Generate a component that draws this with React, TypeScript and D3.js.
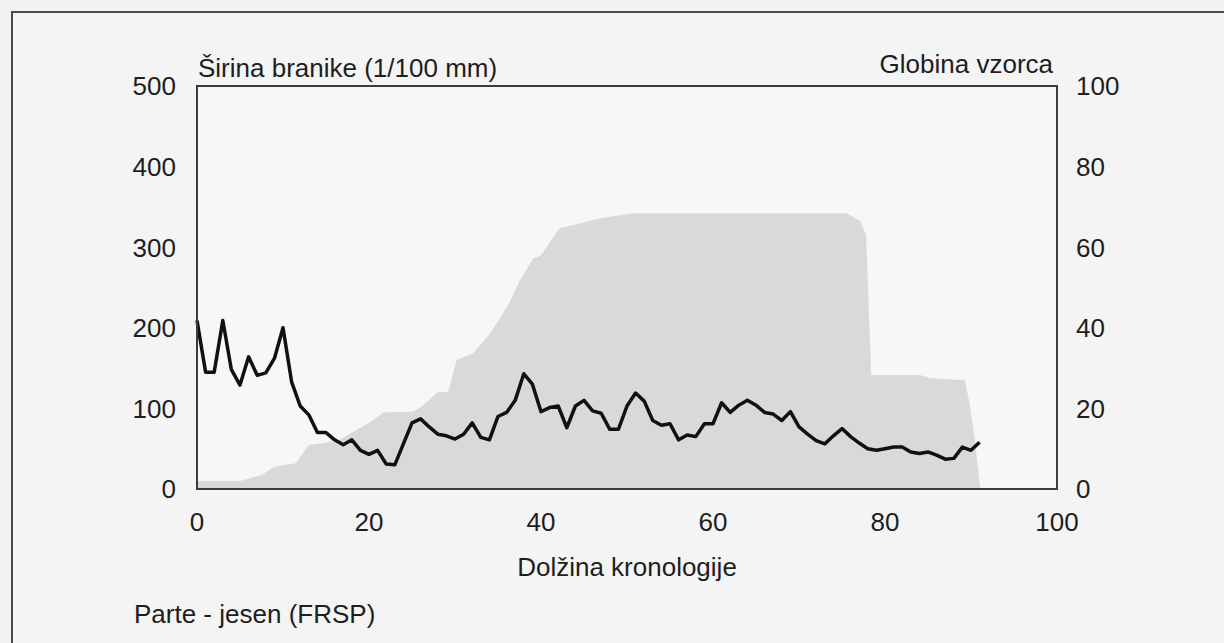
import React from "react";
import * as d3 from "d3";

const ringWidth: number[] = [
  209, 145, 145, 209, 148, 129, 164, 141, 144, 162,
  200, 133, 103, 92, 70, 70, 61, 55, 61, 48,
  43, 48, 31, 30, 56, 82, 87, 77, 68, 66,
  62, 68, 82, 64, 61, 90, 95, 110, 143, 130,
  96, 101, 103, 76, 103, 110, 97, 94, 74, 74,
  103, 119, 109, 85, 79, 81, 61, 67, 65, 81,
  81, 107, 95, 104, 110, 104, 95, 93, 85, 96,
  77, 68, 60, 56, 66, 75, 65, 57, 50, 48,
  50, 52, 52, 46, 44, 46, 42, 37, 38, 52,
  48, 58,
];
const ringYears: number[] = ringWidth.map((_, i) => i);

const depthYears: number[] = [
  0, 5, 7.5, 9, 11.5, 13, 15, 16.6, 17.8, 19.7, 21.7, 25.2, 26.3, 28, 29.2,
  30.2, 32.1, 34.1, 36.4, 37.6, 39.1, 40, 41.6, 42.2, 44.5, 46.9, 50.7, 75.5,
  77.1, 77.8, 78.4, 84.1, 85.2, 89.3, 89.9, 90.5, 91, 91.1,
];
const depthValues: number[] = [
  2, 2, 3.5, 5.5, 6.4, 11, 11.5, 12.2, 13.8, 16, 19, 19.2, 20.8, 24.1, 24.1,
  32, 33.7, 38.6, 46.5, 52, 57.2, 58, 63, 64.7, 65.9, 67.2, 68.4, 68.4,
  66.5, 63, 28.3, 28.3, 27.5, 27, 20.4, 11.3, 1.4, 0,
];

const xTicks: number[] = [0, 20, 40, 60, 80, 100];
const leftTicks: number[] = [0, 100, 200, 300, 400, 500];
const rightTicks: number[] = [0, 20, 40, 60, 80, 100];

const leftTitle = "Širina branike (1/100 mm)";
const rightTitle = "Globina vzorca";
const xTitle = "Dolžina kronologije";
const caption = "Parte - jesen (FRSP)";

export default function App() {
  const W = 1224;
  const H = 643;
  const m = { left: 197, right: 1057, top: 86, bottom: 489 };
  const x = d3.scaleLinear().domain([0, 100]).range([m.left, m.right]);
  const yL = d3.scaleLinear().domain([0, 500]).range([m.bottom, m.top]);
  const yR = d3.scaleLinear().domain([0, 100]).range([m.bottom, m.top]);

  const depthPts = depthYears.map((t, i) => [t, depthValues[i]] as [number, number]);
  const areaGen = d3
    .area<[number, number]>()
    .x((d) => x(d[0]))
    .y0(() => yR(0))
    .y1((d) => yR(d[1]));
  const linePts = ringYears.map((t, i) => [t, ringWidth[i]] as [number, number]);
  const lineGen = d3
    .line<[number, number]>()
    .x((d) => x(d[0]))
    .y((d) => yL(d[1]));

  const font = "'Liberation Sans', Arial, sans-serif";
  const fs = 26;
  const tc = "#1e1e1e";

  return (
    <svg
      width={W}
      height={H}
      style={{ position: "absolute", left: 0, top: 0, background: "#f2f2f2" }}
      fontFamily={font}
    >
      <rect x={0} y={0} width={W} height={H} fill="#f2f2f2" />
      <rect x={12} y={12} width={W + 20} height={H + 20} fill="#f4f4f4" stroke="#4a4a4a" strokeWidth={2} />
      <rect
        x={m.left}
        y={m.top}
        width={m.right - m.left}
        height={m.bottom - m.top}
        fill="#f7f7f7"
      />
      <path d={areaGen(depthPts) || ""} fill="#d9d9d9" />
      <path
        d={lineGen(linePts) || ""}
        fill="none"
        stroke="#111"
        strokeWidth={3.5}
        strokeLinejoin="round"
      />
      <rect
        x={m.left}
        y={m.top}
        width={m.right - m.left}
        height={m.bottom - m.top}
        fill="none"
        stroke="#3c3c3c"
        strokeWidth={2}
      />
      {leftTicks.map((t) => (
        <text key={"l" + t} x={176} y={yL(t)} dy="0.36em" textAnchor="end" fontSize={fs} fill={tc}>
          {t}
        </text>
      ))}
      {rightTicks.map((t) => (
        <text key={"r" + t} x={1076} y={yR(t)} dy="0.36em" textAnchor="start" fontSize={fs} fill={tc}>
          {t}
        </text>
      ))}
      {xTicks.map((t) => (
        <text key={"x" + t} x={x(t)} y={522} dy="0.36em" textAnchor="middle" fontSize={fs} fill={tc}>
          {t}
        </text>
      ))}
      <text x={198} y={77} fontSize={fs} fill={tc}>
        {leftTitle}
      </text>
      <text x={1053} y={73} textAnchor="end" fontSize={fs} fill={tc}>
        {rightTitle}
      </text>
      <text x={(m.left + m.right) / 2} y={567} dy="0.36em" textAnchor="middle" fontSize={fs} fill={tc}>
        {xTitle}
      </text>
      <text x={134} y={614} dy="0.36em" fontSize={fs} fill={tc}>
        {caption}
      </text>
    </svg>
  );
}
